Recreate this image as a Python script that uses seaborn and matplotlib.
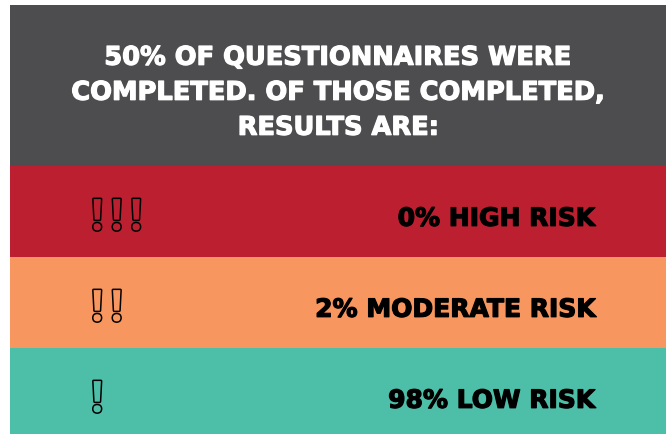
import seaborn as sns
import matplotlib.pyplot as plt
import matplotlib.patheffects as pe
from matplotlib.transforms import blended_transform_factory
import pandas as pd

# ----------- data -----------
completed_pct = 50
risk_levels = ["HIGH RISK", "MODERATE RISK", "LOW RISK"]
risk_pcts = [0, 2, 98]
icon_counts = [3, 2, 1]
band_colors = ["#bc2030", "#f7965e", "#4dbea8"]
header_color = "#4d4d4f"

df = pd.DataFrame({"level": risk_levels, "pct": risk_pcts,
                   "full": [1] * len(risk_levels)})

sns.set_style("white")
plt.rcParams['font.family'] = ['DejaVu Sans']

W, H = 666, 435
fig = plt.figure(figsize=(W / 100, H / 100), dpi=100)
fig.patch.set_facecolor("white")

# thicken the bold font a bit (reference uses a very heavy face)
heavy_white = [pe.withStroke(linewidth=0.9, foreground="white")]
heavy_black = [pe.withStroke(linewidth=0.9, foreground="black")]

# ----------- header -----------
left = 10 / W
width = 656 / W
head = fig.add_axes([left, (H - 167) / H, width, 161 / H])
head.set_facecolor(header_color)
head.set_xticks([])
head.set_yticks([])
for s in head.spines.values():
    s.set_visible(False)
header_lines = [f"{completed_pct}% OF QUESTIONNAIRES WERE",
                "COMPLETED. OF THOSE COMPLETED,",
                "RESULTS ARE:"]
head.text(0.501, 0.455, "\n".join(header_lines), transform=head.transAxes,
          ha="center", va="center", color="white", fontsize=18.5,
          fontweight="bold", linespacing=1.45, path_effects=heavy_white)

# ----------- risk bands -----------
ax = fig.add_axes([left, 0, width, 268 / H])
sns.barplot(data=df, x="full", y="level", hue="level", palette=band_colors,
            orient="h", width=1, saturation=1, legend=False, ax=ax,
            linewidth=0, edgecolor="none")
ax.set_xlim(0, 1)
ax.set_ylim(2.445, -0.5)
ax.set_xticks([])
ax.set_yticks([])
ax.set_xlabel("")
ax.set_ylabel("")
for s in ax.spines.values():
    s.set_visible(False)

trans = blended_transform_factory(ax.transAxes, ax.transData)
for i, (lvl, pct, n) in enumerate(zip(risk_levels, risk_pcts, icon_counts)):
    ax.text(0.892, i + 0.08, f"{pct}% {lvl}", transform=trans, ha="right",
            va="center", fontsize=18, fontweight="bold", color="black",
            path_effects=heavy_black)
    for k in range(n):
        ax.text(0.133 + 0.0297 * k, i + 0.075, "!", transform=trans,
                ha="center", va="center", fontsize=31,
                family="Open Sans", fontweight="bold",
                color=band_colors[i],
                path_effects=[pe.withStroke(linewidth=2.2, foreground="black")])

fig.savefig("out.png", dpi=100)
